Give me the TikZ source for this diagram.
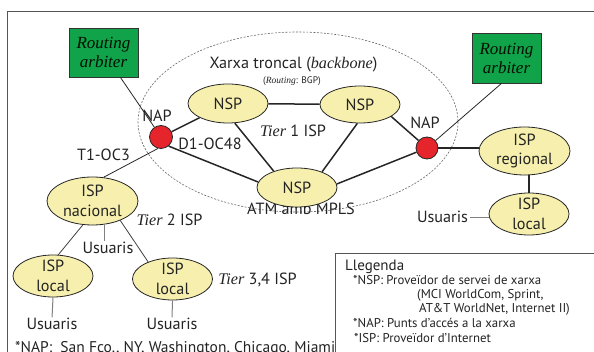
\documentclass[tikz,border=0pt]{standalone}
\usepackage{fontspec}
\setmainfont{PT Sans}
\newfontfamily\itf{Liberation Serif}
\newcommand{\serit}{\itf\itshape}
\usetikzlibrary{shapes.geometric,calc}
\definecolor{ellfill}{RGB}{246,239,174}
\definecolor{napred}{RGB}{230,36,44}
\definecolor{ragreen}{RGB}{16,163,74}
\definecolor{framec}{RGB}{85,85,85}
\definecolor{txt}{RGB}{35,35,35}
\begin{document}
\begin{tikzpicture}[x=1pt,y=-1pt,
  ell/.style={ellipse, draw=black!85, line width=0.8pt, fill=ellfill, inner sep=-4pt, align=center, text=txt, font=\fontsize{16.2}{19.5}\selectfont},
  napc/.style={circle, draw=black!85, line width=0.8pt, fill=napred, minimum size=23pt, inner sep=0pt},
  ra/.style={rectangle, draw=black!80, line width=0.8pt, fill=ragreen, minimum width=69pt, minimum height=49pt, align=center, text=black!85!green!40!black, font=\fontsize{17}{19}\serit},
  conn/.style={line width=1.5pt, black!85},
  thinc/.style={line width=0.8pt, black!85},
  grayc/.style={line width=1pt, black!50},
  lbl/.style={anchor=base, inner sep=0pt, text=txt, font=\fontsize{16.2}{19}\selectfont},
  small/.style={anchor=base, inner sep=0pt, text=txt, font=\fontsize{9.5}{11}\selectfont},
  leg/.style={anchor=base west, inner sep=0pt, text=txt, font=\fontsize{12.8}{14}\selectfont},
  framel/.style={line width=1pt, framec}
]
\clip (0,0) rectangle (594,352);
% frame
\draw[framel] (7.3,360) -- (7.3,11.5) -- (600,11.5);
% backbone
\draw[dashed, dash pattern=on 2pt off 1.5pt, line width=0.6pt, black!60] (298,122) ellipse [x radius=160, y radius=90];
% labels
\node[lbl] (xt) at (293.5,68.3) {Xarxa troncal ({\serit backbone})};
\node[small] (bgp) at (292,84) {({\serit Routing}: BGP)};
\node[lbl] (t1) at (293,137) {{\serit Tier} 1 ISP};
\node[lbl] (napl1) at (157,121.7) {NAP};
\node[lbl] (d1) at (210,150) {D1-OC48};
\node[lbl] (t1oc) at (103.5,160.7) {T1-OC3};
\node[lbl] (napl2) at (425,128.3) {NAP};
\node[lbl] (atm) at (301,214.5) {ATM amb MPLS};
\node[lbl] (t2) at (169.5,226) {{\serit Tier} 2 ISP};
\node[lbl] (us1) at (108,253.3) {Usuaris};
\node[lbl] (t34) at (257.5,285) {{\serit Tier} 3,4 ISP};
\node[lbl] (us2) at (52,330) {Usuaris};
\node[lbl] (us3) at (172,330) {Usuaris};
\node[lbl] (us4) at (442.5,222.7) {Usuaris};
% nodes
\node[ra] (ra1) at (103.5,52.5) {Routing\\arbiter};
\node[ra, minimum height=50pt] (ra2) at (506.5,58) {Routing\\arbiter};
\node[napc] (nap1) at (161,137) {};
\node[napc, minimum size=22pt] (nap2) at (427,148) {};
\node[ell, minimum width=80pt, minimum height=39pt] (nsp1) at (228,103.5) {NSP};
\node[ell, minimum width=80pt, minimum height=37pt] (nsp2) at (360,104.5) {NSP};
\node[ell, minimum width=80pt, minimum height=39pt] (nsp3) at (297,187.5) {NSP};
\node[ell, minimum width=91pt, minimum height=48pt] (reg) at (524.5,151) {ISP\\regional};
\node[ell, minimum width=80pt, minimum height=42pt] (loc3) at (529,214) {ISP\\local};
\node[ell, minimum width=91pt, minimum height=48pt] (nac) at (92.5,201) {ISP\\nacional};
\node[ell, minimum width=80pt, minimum height=42pt] (loc1) at (53,276) {ISP\\local};
\node[ell, minimum width=80pt, minimum height=42pt] (loc2) at (172.5,279) {ISP\\local};
% connectors
\draw[thinc] (ra1) -- (nap1);
\draw[thinc] ([xshift=-5pt]ra2.south) -- (nap2);
\draw[conn] (nap1) -- (nsp1);
\draw[conn] (nap1.-50) -- (nsp3.172);
\draw[thinc] (nap1.-105) -- (nac.65);
\draw[conn] (nsp1) -- (nsp2);
\draw[conn] (nsp1.-71) -- (nsp3.145);
\draw[conn] (nsp2.-98) -- (nsp3.32);
\draw[conn] (nsp2.-21) -- (nap2);
\draw[conn] (nsp3.5) -- (nap2);
\draw[conn] (nap2.east) -- (nap2.east -| reg.west);
\draw[conn] (loc3.north |- reg.south) -- (loc3.north);
\draw[grayc, shorten <=2pt] (us4.east) -- (loc3.west |- us4.east);
\draw[grayc, shorten >=1pt] (nac.-63) -- (nac.-63 |- us1.north);
\draw[thinc, black!75] (nac.248) -- (loc1.76);
\draw[thinc, black!75] (nac.-35) -- (loc2.145);
\draw[grayc, shorten >=1pt] (loc1.south) -- (us2.north);
\draw[grayc, shorten >=1pt] (loc2.south) -- (us3.north);
% bottom note (cut by the picture's lower edge, as in the reference)
\node[anchor=base west, inner sep=0pt, text=txt, font=\fontsize{15.5}{17}\selectfont] (note) at (15,352.5) {*NAP:\ \ San Fco., NY, Washington, Chicago, Miami};
% legend
\draw[framel] (335,253.3) rectangle (620,400);
\node[leg, font=\fontsize{15}{16}\selectfont] (lg0) at (345,271) {Llegenda};
\node[leg] (lg1) at (353,285) {*NSP: Proveïdor de servei de xarxa};
\node[leg] (lg2) at (417,299) {(MCI WorldCom, Sprint,};
\node[leg] (lg3) at (419,313) {AT\&T WorldNet, Internet II)};
\node[leg] (lg4) at (353,327) {*NAP: Punts d'accés a la xarxa};
\node[leg] (lg5) at (354,342) {*ISP: Proveïdor d'Internet};
\end{tikzpicture}
\end{document}
